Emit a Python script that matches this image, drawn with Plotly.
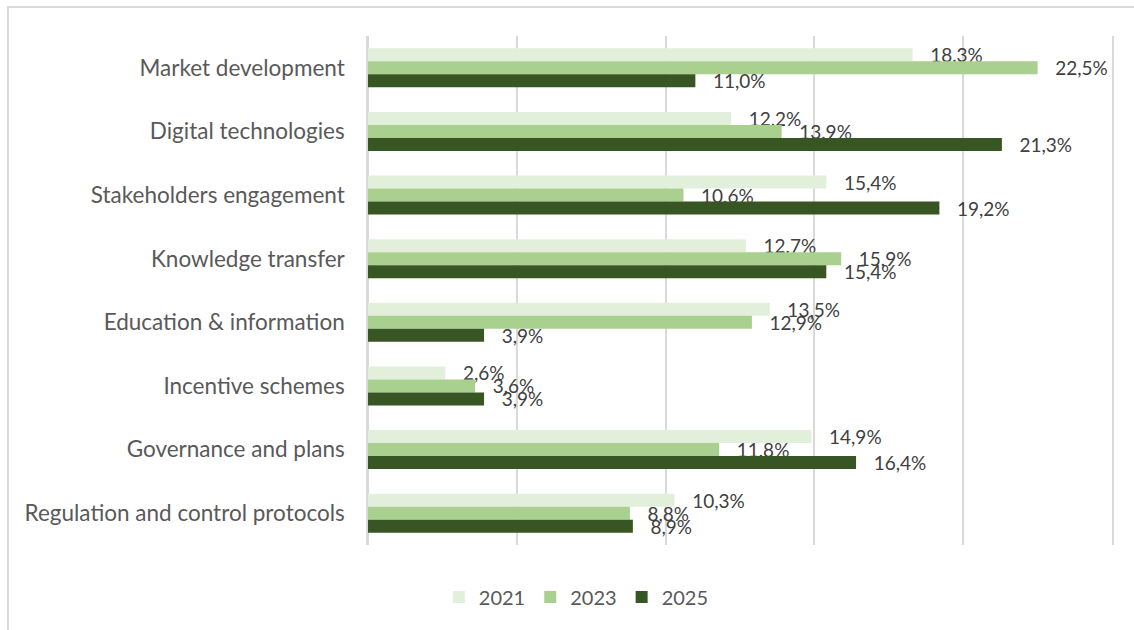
import plotly.graph_objects as go

# Categories, top to bottom
categories = [
    "Market development",
    "Digital technologies",
    "Stakeholders engagement",
    "Knowledge transfer",
    "Education & information",
    "Incentive schemes",
    "Governance and plans",
    "Regulation and control protocols",
]

years = ["2021", "2023", "2025"]
values_2021 = [18.3, 12.2, 15.4, 12.7, 13.5, 2.6, 14.9, 10.3]
values_2023 = [22.5, 13.9, 10.6, 15.9, 12.9, 3.6, 11.8, 8.8]
values_2025 = [11.0, 21.3, 19.2, 15.4, 3.9, 3.9, 16.4, 8.9]
series = [values_2021, values_2023, values_2025]
colors = ["#e2efda", "#a9d08e", "#375623"]

FONT = "Lato"
GRID = "#d9d9d9"


def fmt(v):
    return "   " + f"{v:.1f}".replace(".", ",") + "%"


fig = go.Figure()
for name, vals, col in zip(years, series, colors):
    fig.add_trace(go.Bar(
        name=name,
        y=categories,
        x=vals,
        orientation="h",
        marker=dict(color=col, line=dict(width=0)),
        text=[fmt(v) for v in vals],
        textposition="outside",
        textfont=dict(family=FONT, size=19, color="#404040"),
        constraintext="none",
        cliponaxis=False,
        hoverinfo="skip",
    ))

fig.update_layout(
    width=1134,
    height=630,
    margin=dict(l=368, r=22, t=36, b=85),
    paper_bgcolor="white",
    plot_bgcolor="white",
    barmode="group",
    bargap=0.387,
    bargroupgap=0,
    font=dict(family=FONT, color="#595959"),
    xaxis=dict(
        range=[0, 25],
        dtick=5,
        showticklabels=False,
        showgrid=True,
        gridcolor=GRID,
        gridwidth=1.5,
        zeroline=True,
        zerolinecolor=GRID,
        zerolinewidth=1.5,
        showline=False,
        fixedrange=True,
    ),
    yaxis=dict(
        autorange="reversed",
        showgrid=False,
        showline=True,
        mirror=True,
        linecolor=GRID,
        linewidth=1.5,
        ticks="",
        ticklabelstandoff=17,
        tickfont=dict(family=FONT, size=22.5, color="#595959"),
    ),
    legend=dict(
        orientation="h",
        x=0.28,
        xanchor="center",
        y=-0.102,
        yanchor="middle",
        font=dict(family=FONT, size=20, color="#595959"),
        traceorder="normal",
    ),
    shapes=[
        dict(
            type="rect",
            xref="paper",
            yref="paper",
            x0=-0.4839,
            x1=1.2,
            y0=-0.2,
            y1=1.057,
            line=dict(color=GRID, width=2),
            fillcolor="rgba(0,0,0,0)",
            layer="below",
        )
    ],
)

fig.write_html("out.html")
